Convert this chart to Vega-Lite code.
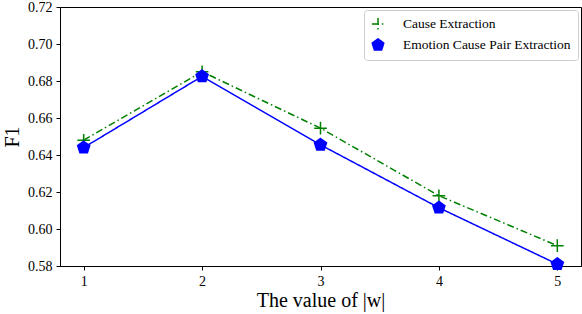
{
  "$schema": "https://vega.github.io/schema/vega-lite/v6.json",
  "width": 521,
  "height": 259,
  "autosize": "none",
  "padding": {"left": 60, "top": 7, "right": 1, "bottom": 48},
  "background": "white",
  "config": {
    "font": "Liberation Serif",
    "view": {"stroke": "black", "strokeWidth": 1},
    "axis": {"grid": false, "domainColor": "black", "tickColor": "black", "labelColor": "black", "titleColor": "black", "labelFont": "Liberation Serif", "titleFont": "Liberation Serif", "labelFontSize": 14, "titleFontSize": 20, "titleFontWeight": "normal", "tickSize": 4, "labelPadding": 4},
    "legend": {"labelFont": "Liberation Serif"}
  },
  "data": {"values": [
    {"w": 1, "task": "Cause Extraction", "F1": 0.648},
    {"w": 2, "task": "Cause Extraction", "F1": 0.685},
    {"w": 3, "task": "Cause Extraction", "F1": 0.6545},
    {"w": 4, "task": "Cause Extraction", "F1": 0.618},
    {"w": 5, "task": "Cause Extraction", "F1": 0.591},
    {"w": 1, "task": "Emotion Cause Pair Extraction", "F1": 0.644},
    {"w": 2, "task": "Emotion Cause Pair Extraction", "F1": 0.6825},
    {"w": 3, "task": "Emotion Cause Pair Extraction", "F1": 0.6455},
    {"w": 4, "task": "Emotion Cause Pair Extraction", "F1": 0.6115},
    {"w": 5, "task": "Emotion Cause Pair Extraction", "F1": 0.581}
  ]},
  "encoding": {
    "x": {"field": "w", "type": "quantitative", "scale": {"domain": [0.8, 5.2], "nice": false, "zero": false}, "axis": {"values": [1, 2, 3, 4, 5], "title": "The value of |w|", "titlePadding": 2}},
    "y": {"field": "F1", "type": "quantitative", "scale": {"domain": [0.58, 0.72], "nice": false, "zero": false}, "axis": {"values": [0.58, 0.6, 0.62, 0.64, 0.66, 0.68, 0.7, 0.72], "format": ".2f", "title": "F1", "titlePadding": 5}}
  },
  "layer": [
    {
      "mark": {"type": "line", "strokeWidth": 1.5},
      "encoding": {
        "stroke": {"field": "task", "type": "nominal", "scale": {"domain": ["Cause Extraction", "Emotion Cause Pair Extraction"], "range": ["#008000", "#0000ff"]}, "legend": {"title": null}},
        "strokeDash": {"field": "task", "type": "nominal", "scale": {"domain": ["Cause Extraction", "Emotion Cause Pair Extraction"], "range": [[7, 3, 1.5, 3], [1, 0]]}, "legend": null}
      }
    },
    {
      "mark": {"type": "point", "opacity": 1, "strokeWidth": 1.5},
      "encoding": {
        "shape": {"field": "task", "type": "nominal", "scale": {"domain": ["Cause Extraction", "Emotion Cause Pair Extraction"], "range": ["M-1,0L1,0M0,-1L0,1", "M0,-1L0.951,-0.309L0.588,0.809L-0.588,0.809L-0.951,-0.309Z"]}, "legend": {"title": null, "orient": "top-right", "offset": 3, "labelFont": "Liberation Serif", "labelFontSize": 13.5, "labelLimit": 400, "labelColor": "black", "strokeColor": "#cccccc", "fillColor": "white", "padding": 7, "cornerRadius": 3, "symbolSize": 150, "rowPadding": 1, "labelOffset": 18}},
        "fill": {"field": "task", "type": "nominal", "scale": {"domain": ["Cause Extraction", "Emotion Cause Pair Extraction"], "range": ["transparent", "#0000ff"]}, "legend": {"title": null}},
        "stroke": {"field": "task", "type": "nominal", "legend": {"title": null}},
        "size": {"value": 160}
      }
    }
  ]
}
